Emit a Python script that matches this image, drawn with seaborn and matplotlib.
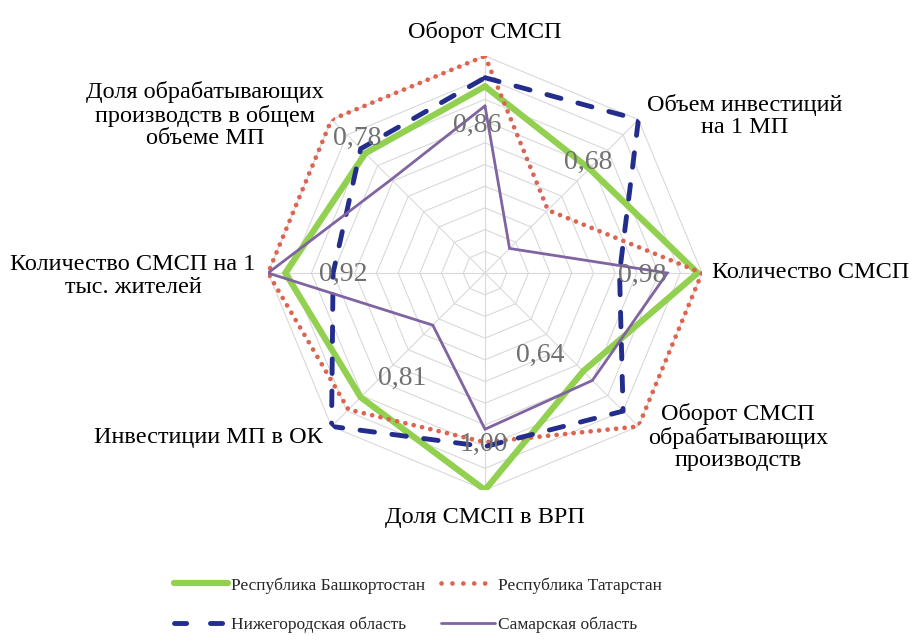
import numpy as np
import matplotlib
matplotlib.use("Agg")
import matplotlib.pyplot as plt
import seaborn as sns
from matplotlib.lines import Line2D

# ---------------- data ----------------
categories = [
    "Оборот СМСП",
    "Объем инвестиций\nна 1 МП",
    "Количество СМСП",
    "Оборот СМСП\nобрабатывающих\nпроизводств",
    "Доля СМСП в ВРП",
    "Инвестиции МП в ОК",
    "Количество СМСП на 1\nтыс. жителей",
    "Доля обрабатывающих\nпроизводств в общем\nобъеме МП",
]
series_names = ["Республика Башкортостан", "Республика Татарстан",
                "Нижегородская область", "Самарская область"]
bashkortostan = [0.86, 0.68, 0.98, 0.64, 1.00, 0.81, 0.92, 0.78]
tatarstan = [1.00, 0.41, 1.00, 1.00, 0.78, 0.89, 1.00, 1.00]
nizhny = [0.90, 1.00, 0.62, 0.90, 0.80, 1.00, 0.70, 0.81]
samara = [0.77, 0.16, 0.84, 0.70, 0.72, 0.34, 1.00, 0.61]
grid_levels = [0.1, 0.2, 0.3, 0.4, 0.5, 0.6, 0.7, 0.8, 0.9, 1.0]

# ---------------- style ----------------
sns.set_theme(style="white")
plt.rcParams["font.family"] = ["Liberation Serif", "DejaVu Serif"]

W, H = 913, 644
fig = plt.figure(figsize=(W / 100, H / 100), dpi=100)
fig.patch.set_facecolor("white")

cx, cy, R = 485, 273, 217
ax = fig.add_axes([(cx - R) / W, 1 - (cy + R) / H, 2 * R / W, 2 * R / H],
                  projection="polar")
ax.set_theta_zero_location("N")
ax.set_theta_direction(-1)
ax.set_ylim(0, 1)
ax.grid(False)
ax.set_xticks([])
ax.set_yticks([])
ax.spines["polar"].set_visible(False)
ax.set_facecolor("none")

n = len(categories)
theta = np.linspace(0, 2 * np.pi, n, endpoint=False)
theta_c = np.append(theta, theta[0] + 2 * np.pi)

# octagonal grid
grid_color = "#D9D9D9"
for lvl in grid_levels:
    ax.plot(theta_c, [lvl] * (n + 1), color=grid_color, lw=0.8, zorder=0)
for a in theta:
    ax.plot([a, a], [0, 1], color=grid_color, lw=0.8, zorder=0)

styles = [
    dict(color="#92D050", lw=4.5, dashes=None, hdashes=None, z=3),
    dict(color="#DC6450", lw=3.4, dashes=(0.01, 1.8), hdashes=(0.01, 2.3), z=4),
    dict(color="#232D8C", lw=3.5, dashes=(3.0, 3.6), hdashes=(2.5, 4.9), z=5),
    dict(color="#8064A2", lw=2.0, dashes=None, hdashes=None, z=6),
]
all_series = [bashkortostan, tatarstan, nizhny, samara]

handles = []
for name, vals, st in zip(series_names, all_series, styles):
    vals_c = np.append(vals, vals[0])
    before = len(ax.lines)
    sns.lineplot(x=theta_c, y=vals_c, sort=False, estimator=None, ax=ax,
                 color=st["color"], linewidth=st["lw"], zorder=st["z"])
    line = ax.lines[before]
    line.set_solid_joinstyle("miter")
    if st["dashes"] is not None:
        line.set_dashes(st["dashes"])
        line.set_dash_capstyle("round")
    h = Line2D([0], [0], color=st["color"], lw=st["lw"])
    if st["hdashes"] is not None:
        h.set_dashes(st["hdashes"])
        h.set_dash_capstyle("round")
    handles.append(h)

ax.set_xlabel("")
ax.set_ylabel("")
ax.set_xticks([])
ax.set_yticks([])
ax.set_ylim(0, 1)

# category labels (figure pixel positions)
label_pos = [
    (485, 32, "center"),
    (745, 116, "center"),
    (712, 273, "left"),
    (738, 437, "center"),
    (485, 517, "center"),
    (323, 437, "right"),
    (133, 276, "center"),
    (205, 115, "center"),
]
for txt, (x, y, ha) in zip(categories, label_pos):
    fig.text(x / W, 1 - y / H, txt, ha=ha, va="center", ma="center",
             fontsize=17.5, color="black", linespacing=1.12)

# data labels of Bashkortostan
data_label_pos = [(477, 125), (588, 162), (642, 275), (540, 355),
                  (484, 444), (402, 378), (343, 274), (357, 138)]
for v, (x, y) in zip(bashkortostan, data_label_pos):
    fig.text(x / W, 1 - y / H, f"{v:.2f}".replace(".", ","), ha="center",
             va="center", fontsize=20, color="#707070", zorder=10)

# legend
order = [0, 2, 1, 3]
leg = fig.legend([handles[i] for i in order], [series_names[i] for i in order],
                 loc="upper left", bbox_to_anchor=(174 / W, 1 - 577 / H),
                 ncol=2, frameon=False, fontsize=12.5, handlelength=3.1,
                 handletextpad=0.2, columnspacing=0.9, labelspacing=1.35,
                 borderpad=0, borderaxespad=0)

fig.savefig("out.png", dpi=100, facecolor="white")
